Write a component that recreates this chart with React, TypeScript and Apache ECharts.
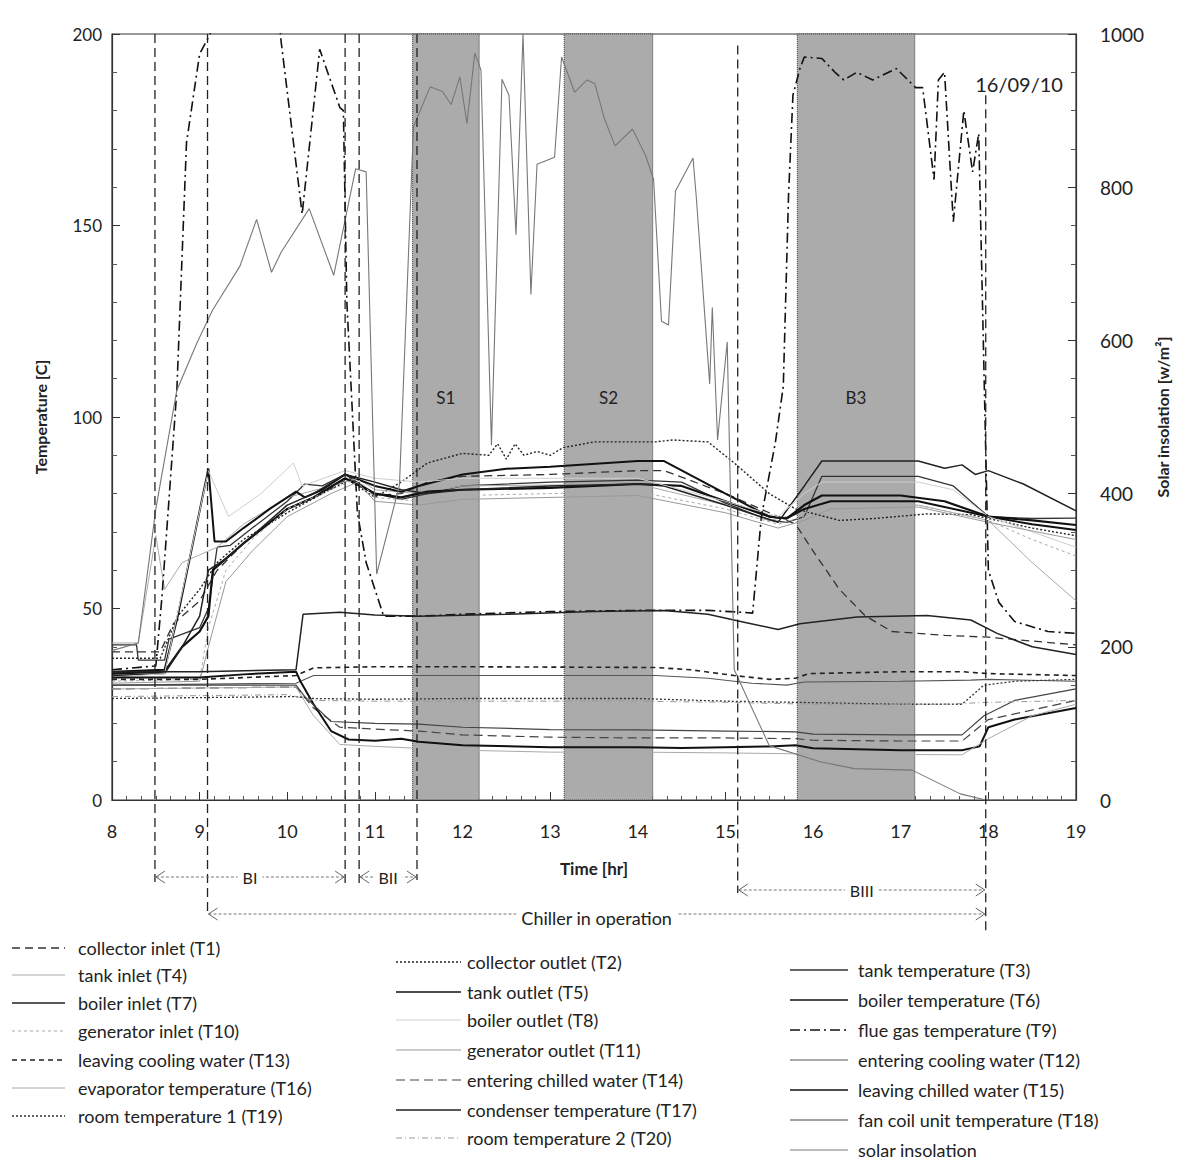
import React, { useEffect, useRef } from "react";
import * as echarts from "echarts";

// ---------- data ----------
const T1 = [[8,38.7],[8.55,38.7],[8.7,46],[9,52],[9.2,60],[9.5,67],[10,76],[10.4,80],[10.7,84],[11,79.5],[11.3,80],[11.6,83],[12,84.5],[13,85],[14,86],[14.3,86],[15,80],[15.5,75],[15.8,72],[16,65],[16.3,55],[16.6,48],[16.9,44],[17.5,43],[18,42.5],[18.5,41.5],[19,40.5]];
const T2 = [[8,37],[8.55,37],[8.75,48],[9,55],[9.2,62],[9.5,68],[10,75],[10.4,80],[10.7,83.5],[11,79],[11.3,83],[11.6,88],[12,90.5],[12.3,90],[12.4,93],[12.5,89],[12.6,93],[12.7,90],[12.85,91],[13,90],[13.15,92],[13.5,93.5],[14.2,93.5],[14.4,94],[14.8,93.5],[15.1,88],[15.5,80],[15.8,76],[16.3,73],[16.7,73.5],[17.3,74.7],[17.8,74.5],[18,73.5],[18.5,71],[19,69]];
const T3 = [[8,40.5],[8.28,40.5],[8.3,36.5],[8.6,36.5],[8.65,42],[9,45],[9.1,50],[9.2,66],[9.35,66.5],[9.6,71],[10,78],[10.2,82.5],[10.4,82],[10.66,85],[11,80],[11.3,78.5],[11.6,80],[12,82],[13,83],[14,83.5],[14.5,83],[15,77.5],[15.5,73],[15.7,72.5],[15.9,74],[16.1,84.5],[17.2,84.5],[17.6,82],[18,74],[18.5,73.5],[19,73.6]];
const T4 = [[8,41],[8.3,41],[8.4,55],[8.5,69],[8.6,55],[8.8,62],[9,64],[9.2,66],[9.5,72],[10,79],[10.5,82],[10.8,84],[11,81],[11.5,80],[12,82],[14,82.5],[15,77],[15.5,73],[15.9,75],[16.2,77],[17.2,77],[18,73],[18.5,62],[19,52]];
const T5 = [[8,33],[8.6,33.5],[8.8,40],[9,44],[9.1,48],[9.15,60],[9.5,67],[10,76],[10.3,79],[10.66,84],[11,80],[11.3,79],[11.6,80.5],[12,81],[13,81.5],[14,82.5],[14.5,82],[15,78],[15.5,74],[15.7,73.5],[15.9,77],[16.1,79.5],[17,79.5],[17.5,78],[18,74],[18.5,73],[19,71.8]];
const T6 = [[8,33.5],[8.6,34],[8.75,48],[9.1,86.5],[9.17,67.5],[9.3,67.5],[9.5,71],[9.8,76],[10.1,80.5],[10.2,79],[10.4,81],[10.66,85],[11,82],[11.3,80.5],[11.5,82],[12,85],[12.5,86.5],[13,87],[14,88.5],[14.3,88.5],[15,80],[15.5,74],[15.7,73.5],[15.9,76],[16.2,78],[17.2,78],[18,74],[18.5,72],[19,70.5]];
const T7 = [[8,32.5],[8.6,33],[8.8,40],[9,48],[9.1,60],[9.3,63],[9.6,69],[10,77],[10.3,80],[10.66,85],[11,83],[11.3,81],[11.6,80],[12,81],[13,82],[14,82.5],[14.3,82],[15,77],[15.6,72.5],[15.9,82],[16.1,88.5],[17.2,88.5],[17.5,86.6],[17.7,87.5],[17.85,85],[18,86],[18.4,82.5],[19,75.5]];
const T8 = [[8,32],[8.6,33],[9.1,86],[9.33,74],[9.7,80],[10.07,88],[10.17,82],[10.66,86],[11,84],[11.5,83],[12,84],[14,84],[15,78],[15.6,74],[15.9,80],[16.1,83],[17.2,83],[17.6,81],[18,74],[18.5,70],[19,66]];
const T9 = [[8,34],[8.5,35],[8.57,53],[8.74,107],[8.85,171.6],[9,194.8],[9.12,200],[9.3,230],[9.8,230],[9.93,198],[10.17,153],[10.37,196],[10.6,180.8],[10.64,180],[10.68,130],[10.8,75],[10.9,62],[11.1,48],[11.5,48],[12,48.5],[13,49.2],[14,49.5],[14.8,49.5],[15.2,49],[15.31,48.8],[15.41,74],[15.57,93.4],[15.66,108],[15.72,158],[15.77,184],[15.85,191],[15.9,194],[16.1,193.6],[16.25,190],[16.35,188],[16.5,190],[16.68,188],[16.95,191],[17.17,186],[17.25,186],[17.38,162],[17.43,188],[17.5,190],[17.6,151],[17.72,180],[17.82,164],[17.89,174],[18,60],[18.12,51.6],[18.3,46.6],[18.68,44],[19,43.5]];
const T10 = [[8,31],[9,31.5],[9.1,45],[9.3,60],[9.6,68],[10,76],[10.5,81],[10.8,84],[11,79],[11.5,78],[12,79.5],[13,80],[14,80.5],[15,76],[15.6,72],[15.9,74],[16.2,77],[17.2,77],[18,73],[18.5,68],[19,63.7]];
const T11 = [[8,30.5],[9,31],[9.1,40],[9.3,57],[9.6,65],[10,74],[10.5,80],[10.8,83],[11,78],[11.5,77],[12,78.5],[13,79],[14,79.5],[15,75],[15.6,71],[15.9,73],[16.2,76],[17.2,76.5],[18,72.5],[19,68]];
const T12 = [[8,30],[10.1,30.5],[10.3,32.5],[12,32.5],[14.2,32.5],[14.8,31.8],[15.3,30.5],[15.7,30],[15.9,30.8],[17,31],[17.8,31.3],[18,31.5],[19,31]];
const T13 = [[8,31.5],[9,31.5],[10.1,32.5],[10.3,34.5],[11,34.8],[12,34.8],[13,34.7],[14.2,34.6],[14.6,34],[15.1,32.5],[15.5,31.5],[15.8,31.8],[15.95,33],[17,33.5],[17.7,33.5],[18,33],[19,32.5]];
const T14 = [[8,29],[10.1,29.5],[10.3,24],[10.6,19],[11,18.5],[11.5,18],[12,17],[13,16.4],[14,16.2],[15,16.2],[15.8,16],[16,15.6],[17,15.4],[17.7,15.4],[18,21],[18.5,23.5],[19,26]];
const T15 = [[8,32],[9,32],[9.5,32.8],[10.1,33.5],[10.15,31],[10.3,25],[10.5,18],[10.7,15.8],[11,15.5],[11.3,16],[11.5,15.2],[12,14.3],[13,13.8],[14,13.8],[14.5,13.6],[15,13.8],[15.5,14],[15.8,14.3],[16,13.5],[17,13],[17.7,13],[17.9,14],[18,19],[18.3,21],[19,24]];
const T16 = [[8,29],[10.1,29.5],[10.3,22],[10.6,14.5],[11,14],[12,13],[13,12.5],[14,12.5],[15,12.3],[16,12],[17.7,11.8],[18,16],[18.5,22],[19,25]];
const T17 = [[8,33.5],[9,33.5],[10.1,34],[10.18,48.5],[10.6,49],[11,48.3],[11.5,48],[12.5,48.5],[13.5,49.2],[14.3,49.5],[14.8,48.5],[15.2,46.5],[15.6,44.5],[15.85,46],[16.5,47.8],[17.3,48.2],[17.8,47],[18.1,43.5],[18.5,40],[19,38]];
const T18 = [[8,30],[10.1,30],[10.2,27],[10.5,20.5],[11,20],[11.5,19.8],[12,19],[13,18.4],[14,18.3],[15,18],[15.8,17.8],[16,17.2],[17,17],[17.7,17],[17.95,22],[18.3,26],[19,29]];
const T19 = [[8,26.5],[10.1,27],[10.3,26.5],[11,26.3],[12,26.5],[14,26.5],[15,25.8],[15.8,25.5],[17,25],[17.7,25],[17.95,30],[18.3,31],[19,31.5]];
const T20 = [[8,27],[10,27.5],[10.3,26],[11,25.8],[14,25.8],[15,25.5],[16,25],[17.5,25],[18,25.5],[19,26]];
const SOLAR = [[8,195],[8.3,205],[8.5,380],[8.74,535],[8.97,597],[9.15,640],[9.46,697],[9.65,758],[9.82,689],[9.93,715],[10.25,772],[10.53,685],[10.78,824],[10.9,820],[11.02,295],[11.28,411],[11.44,879],[11.63,931],[11.77,925],[11.87,908],[11.97,944],[12.05,883],[12.14,975],[12.21,953],[12.33,463],[12.45,941],[12.53,920],[12.61,738],[12.69,1000],[12.78,660],[12.85,830],[13.05,839],[13.13,970],[13.28,924],[13.42,940],[13.51,935],[13.62,889],[13.74,854],[13.94,876],[14.09,841],[14.18,810],[14.27,625],[14.35,620],[14.43,795],[14.63,838],[14.67,783],[14.82,543],[14.85,643],[14.91,470],[15.02,598],[15.1,170],[15.5,71],[16.08,50],[16.47,41],[17.13,39],[17.68,8],[17.97,0],[19,0]];

const NAMES = [
  "collector inlet (T1)", "collector outlet (T2)", "tank temperature (T3)", "tank inlet (T4)",
  "tank outlet (T5)", "boiler temperature (T6)", "boiler inlet (T7)", "boiler outlet (T8)",
  "flue gas temperature (T9)", "generator inlet (T10)", "generator outlet (T11)",
  "entering cooling water (T12)", "leaving cooling water (T13)", "entering chilled water (T14)",
  "leaving chilled water (T15)", "evaporator temperature (T16)", "condenser temperature (T17)",
  "fan coil unit temperature (T18)", "room temperature 1 (T19)", "room temperature 2 (T20)",
  "solar insolation",
];
const DATA = [T1,T2,T3,T4,T5,T6,T7,T8,T9,T10,T11,T12,T13,T14,T15,T16,T17,T18,T19,T20,SOLAR];

const BANDS = [[11.43, 12.19, "S1"], [13.16, 14.17, "S2"], [15.82, 17.16, "B3"]];
const EVENT_TIMES = [8.49, 9.09, 10.66, 10.82, 11.48, 15.14, 17.97];
const EVENT_TOP = [200, 200, 200, 200, 200, 197, 184];
const SPANS = [
  { from: 8.49, to: 10.66, label: "BI" },
  { from: 10.82, to: 11.48, label: "BII" },
  { from: 15.14, to: 17.97, label: "BIII" },
  { from: 9.09, to: 17.97, label: "Chiller in operation" },
];
const DATE_LABEL = "16/09/10";

// ---------- styles (not data) ----------
const STYLE: any[] = [
  { c: "#333", w: 1.3, d: [8, 5] },      // T1
  { c: "#222", w: 1.4, d: [2, 2] },      // T2
  { c: "#333", w: 1.3, d: null },        // T3
  { c: "#aaa", w: 1, d: null },          // T4
  { c: "#111", w: 2.2, d: null },        // T5
  { c: "#111", w: 2, d: null },          // T6
  { c: "#222", w: 1.5, d: null },        // T7
  { c: "#cfcfcf", w: 1, d: null },       // T8
  { c: "#111", w: 1.6, d: [10, 4, 2, 4] }, // T9
  { c: "#aaa", w: 1, d: [3, 3] },        // T10
  { c: "#999", w: 1, d: null },          // T11
  { c: "#555", w: 1.1, d: null },        // T12
  { c: "#222", w: 1.6, d: [5, 4] },      // T13
  { c: "#444", w: 1.2, d: [9, 5] },      // T14
  { c: "#111", w: 2, d: null },          // T15
  { c: "#aaa", w: 1, d: null },          // T16
  { c: "#222", w: 1.5, d: null },        // T17
  { c: "#444", w: 1.2, d: null },        // T18
  { c: "#333", w: 1.3, d: [2, 2] },      // T19
  { c: "#999", w: 1, d: [6, 3, 1, 3] },  // T20
  { c: "#777", w: 1.1, d: null },        // solar
];
const EVENT_BOTTOM_PX = [882, 912, 884, 884, 880, 893, 934];
const SPAN_Y = [877, 877, 890, 914];
const LEGEND_COLS = [
  { idx: [0, 3, 6, 9, 12, 15, 18], ys: [948, 975, 1003, 1031, 1060, 1088, 1116], sx: 12, ex: 65, tx: 78 },
  { idx: [1, 4, 7, 10, 13, 16, 19], ys: [962, 992, 1020, 1050, 1080, 1110, 1138], sx: 396, ex: 461, tx: 467 },
  { idx: [2, 5, 8, 11, 14, 17, 20], ys: [970, 1000, 1030, 1060, 1090, 1120, 1150], sx: 790, ex: 848, tx: 858 },
];
const FONT = "Lato, 'Liberation Sans', sans-serif";

export default function App() {
  const ref = useRef<HTMLDivElement>(null);
  useEffect(() => {
    document.body.style.margin = "0";
    const chart = echarts.init(ref.current!, null, { renderer: "svg" });
    const series: any[] = [
      {
        type: "line", name: "bands", data: [[8, 0]], symbol: "none", silent: true, z: 1,
        lineStyle: { opacity: 0 },
        markArea: {
          silent: true,
          itemStyle: { color: "#ababab", borderColor: "#333", borderWidth: 1, borderType: "dotted" },
          data: BANDS.map((b) => [{ xAxis: b[0] }, { xAxis: b[1] }]),
        },
      },
      ...DATA.map((d, i) => ({
        type: "line",
        name: NAMES[i],
        data: d,
        yAxisIndex: i === 20 ? 1 : 0,
        symbol: "none",
        z: 3,
        clip: true,
        lineStyle: { color: STYLE[i].c, width: STYLE[i].w, type: STYLE[i].d || "solid" },
      })),
    ];
    const option: any = {
      animation: false,
      textStyle: { fontFamily: FONT },
      grid: { left: 112, top: 34, width: 964, height: 766, show: true, borderColor: "#333", borderWidth: 1.2, backgroundColor: "transparent" },
      xAxis: {
        type: "value", min: 8, max: 19, interval: 1,
        name: "Time [hr]", nameLocation: "middle", nameGap: 60,
        nameTextStyle: { fontWeight: "bold", fontSize: 17, color: "#222", fontFamily: FONT },
        axisLine: { lineStyle: { color: "#333", width: 1.2 } },
        axisTick: { inside: true, length: 8, lineStyle: { color: "#333" } },
        minorTick: { show: true, splitNumber: 6, length: 4, lineStyle: { color: "#555" } },
        axisLabel: { fontSize: 18, color: "#222", margin: 22, fontFamily: FONT },
        splitLine: { show: false },
      },
      yAxis: [
        {
          type: "value", min: 0, max: 200, interval: 50, position: "left",
          name: "Temperature [C]", nameLocation: "middle", nameGap: 64, nameRotate: 90,
          nameTextStyle: { fontWeight: "bold", fontSize: 16, color: "#222", fontFamily: FONT },
          axisLine: { show: true, lineStyle: { color: "#333", width: 1.2 } },
          axisTick: { show: true, inside: true, length: 8, lineStyle: { color: "#333" } },
          minorTick: { show: true, splitNumber: 5, length: 5, lineStyle: { color: "#555" } },
          axisLabel: { fontSize: 17, color: "#222", margin: 10, fontFamily: FONT },
          splitLine: { show: false },
        },
        {
          type: "value", min: 0, max: 1000, interval: 200, position: "right",
          name: "Solar insolation [w/m²]", nameLocation: "middle", nameGap: 78, nameRotate: 90,
          nameTextStyle: { fontWeight: "bold", fontSize: 16, color: "#222", fontFamily: FONT },
          axisLine: { show: true, lineStyle: { color: "#333", width: 1.2 } },
          axisTick: { show: true, inside: true, length: 8, lineStyle: { color: "#333" } },
          minorTick: { show: true, splitNumber: 4, length: 5, lineStyle: { color: "#555" } },
          axisLabel: { fontSize: 19, color: "#222", margin: 24, fontFamily: FONT, formatter: (v: number) => String(v) },
          splitLine: { show: false },
        },
      ],
      series,
    };
    chart.setOption(option);

    const X = (h: number) => chart.convertToPixel({ xAxisIndex: 0 }, h) as number;
    const Y = (v: number) => chart.convertToPixel({ yAxisIndex: 0 }, v) as number;
    const g: any[] = [];
    const txt = (x: number, y: number, text: string, size: number, align = "left", extra: any = {}) => ({
      type: "text", x, y, z: 60,
      style: { text, fontSize: size, fontFamily: FONT, fill: "#222", align, verticalAlign: "middle", textAlign: align, textVerticalAlign: "middle", ...extra },
    });

    // band labels
    BANDS.forEach((b) => {
      g.push(txt((X(b[0] as number) + X(b[1] as number)) / 2, Y(105), b[2] as string, 17, "center"));
    });
    // date
    g.push(txt(X(18.35), Y(187), DATE_LABEL, 20, "center"));

    // event lines
    EVENT_TIMES.forEach((t, i) => {
      const x = X(t);
      g.push({ type: "line", z: 50, shape: { x1: x, y1: Y(EVENT_TOP[i]), x2: x, y2: EVENT_BOTTOM_PX[i] },
        style: { stroke: "#222", lineWidth: 1.3, lineDash: [9, 5] } });
    });

    // span arrows
    SPANS.forEach((s, i) => {
      const x1 = X(s.from), x2 = X(s.to), y = SPAN_Y[i];
      const st = { stroke: "#777", lineWidth: 1, lineDash: [3, 2], fill: "none" };
      g.push({ type: "line", z: 50, shape: { x1: x1 + 1, y1: y, x2: x2 - 1, y2: y }, style: st });
      g.push({ type: "polyline", z: 50, shape: { points: [[x1 + 10, y - 6], [x1 + 1, y], [x1 + 10, y + 6]] }, style: { stroke: "#666", lineWidth: 1, fill: "none" } });
      g.push({ type: "polyline", z: 50, shape: { points: [[x2 - 10, y - 6], [x2 - 1, y], [x2 - 10, y + 6]] }, style: { stroke: "#666", lineWidth: 1, fill: "none" } });
      const size = s.label.length > 5 ? 18 : 16;
      g.push(txt((x1 + x2) / 2, y + (s.label.length > 5 ? 4 : 0), s.label, size, "center", { backgroundColor: "#fff", padding: [0, 5, 0, 5] }));
    });

    // legend
    LEGEND_COLS.forEach((col) => {
      col.idx.forEach((si, k) => {
        const y = col.ys[k];
        const s = STYLE[si];
        g.push({ type: "line", z: 50, shape: { x1: col.sx, y1: y, x2: col.ex, y2: y },
          style: { stroke: s.c, lineWidth: Math.min(s.w, 1.6), lineDash: s.d || null } });
        g.push(txt(col.tx, y, NAMES[si], 18, "left"));
      });
    });

    chart.setOption({ graphic: g });
    return () => chart.dispose();
  }, []);
  return <div ref={ref} style={{ width: 1184, height: 1166 }} />;
}
